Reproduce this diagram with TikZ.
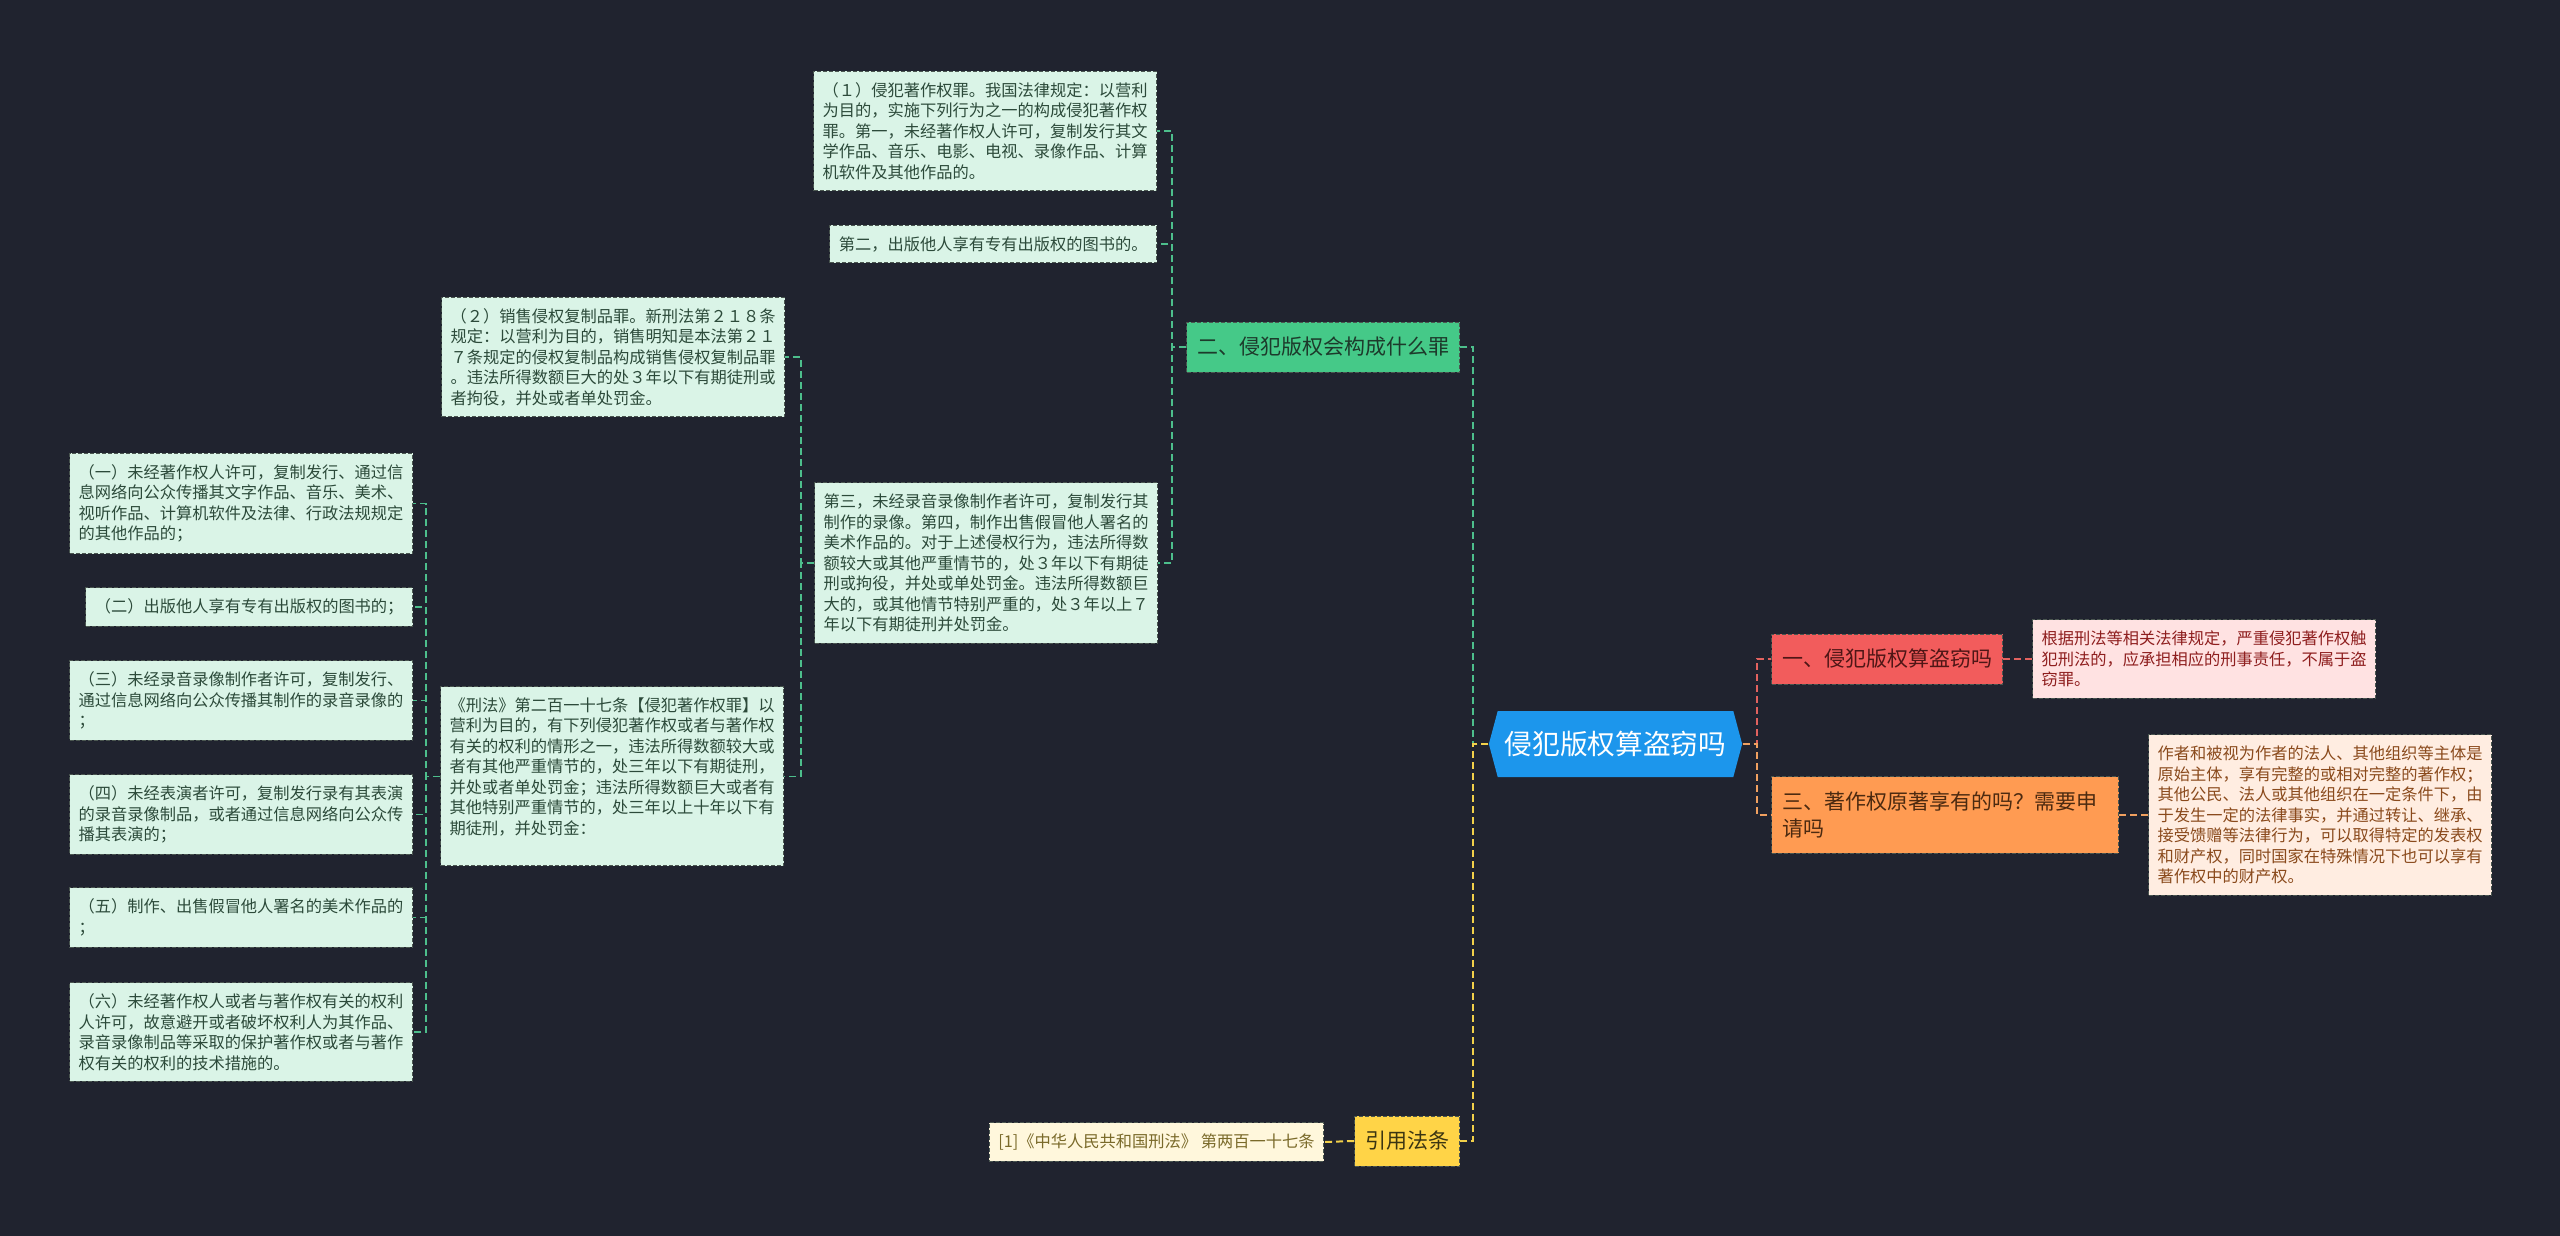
\documentclass[tikz,border=0pt]{standalone}
\usepackage{fontspec}
\newfontfamily\cjk{Noto Sans CJK SC}
\usetikzlibrary{shapes.symbols}

\definecolor{bgnavy}{HTML}{20232F}
\definecolor{mintfill}{HTML}{DAF4E7}
\definecolor{minttext}{HTML}{2C4A3A}
\definecolor{boxline}{HTML}{4A5650}
\definecolor{greennode}{HTML}{45C988}
\definecolor{greentext}{HTML}{1D3A2B}
\definecolor{rootblue}{HTML}{1C96EC}
\definecolor{rednode}{HTML}{F25C5C}
\definecolor{redtext}{HTML}{4F1616}
\definecolor{pinkfill}{HTML}{FFE2E2}
\definecolor{pinktext}{HTML}{8E1E1E}
\definecolor{orangenode}{HTML}{FF9B52}
\definecolor{orangetext}{HTML}{4C2A10}
\definecolor{peachfill}{HTML}{FFEDE1}
\definecolor{peachtext}{HTML}{8A4A1C}
\definecolor{yellownode}{HTML}{FFD447}
\definecolor{yellowtext}{HTML}{3B3512}
\definecolor{creamfill}{HTML}{FFF7DC}
\definecolor{creamtext}{HTML}{7A6A2A}
\definecolor{linkgreen}{HTML}{4DBE8C}
\definecolor{linkred}{HTML}{E2625F}
\definecolor{linkorange}{HTML}{F0A060}
\definecolor{linkyellow}{HTML}{F2D04A}

\begin{document}
\begin{tikzpicture}[x=0.5pt, y=-0.5pt,
  leaf/.style={draw=boxline, dashed, dash pattern=on 2pt off 1pt, line width=0.5pt,
    fill=mintfill, text=minttext, align=left, inner xsep=4.5pt, inner ysep=5.5pt,
    font=\cjk\fontsize{8.125}{10.25}\selectfont},
  topic/.style={draw=boxline, dashed, dash pattern=on 2pt off 1pt, line width=0.5pt,
    align=left, inner xsep=5.25pt, minimum height=25pt,
    font=\cjk\fontsize{10.5}{13.5}\selectfont},
  link/.style={dashed, dash pattern=on 3.5pt off 2pt, line width=1pt}]

\fill[bgnavy] (0,0) rectangle (2560,1236);
\useasboundingbox (0,0) rectangle (2560,1236);

% centre
\node[signal, signal to=east and west, signal pointer angle=150, fill=rootblue, text=white,
  inner xsep=3.5pt, minimum height=33pt, font=\cjk\fontsize{13.85}{16}\selectfont]
  (root) at (1615.5,744) {侵犯版权算盗窃吗};

% right side
\node[topic, fill=rednode, text=redtext, anchor=west] (theft) at (1771,659) {一、侵犯版权算盗窃吗};
\node[leaf, fill=pinkfill, text=pinktext, anchor=west] (theftnote) at (2032,659)
  {根据刑法等相关法律规定，严重侵犯著作权触\\犯刑法的，应承担相应的刑事责任，不属于盗\\窃罪。};
\node[topic, fill=orangenode, text=orangetext, anchor=west, text width=163pt, inner ysep=7.5pt] (owner) at (1771,815)
  {三、著作权原著享有的吗？需要申\\请吗};
\node[leaf, fill=peachfill, text=peachtext, anchor=west] (ownernote) at (2148,815)
  {作者和被视为作者的法人、其他组织等主体是\\原始主体，享有完整的或相对完整的著作权；\\其他公民、法人或其他组织在一定条件下，由\\于发生一定的法律事实，并通过转让、继承、\\接受馈赠等法律行为，可以取得特定的发表权\\和财产权，同时国家在特殊情况下也可以享有\\著作权中的财产权。};

% left side
\node[topic, fill=greennode, text=greentext, anchor=east] (crime) at (1460,347) {二、侵犯版权会构成什么罪};
\node[topic, fill=yellownode, text=yellowtext, anchor=east] (cite) at (1460,1141) {引用法条};
\node[leaf, fill=creamfill, text=creamtext, anchor=east] (citenote) at (1324,1142)
  {[1]《中华人民共和国刑法》 第两百一十七条};

\node[leaf, anchor=east] (sub1) at (1157,131)
  {（１）侵犯著作权罪。我国法律规定：以营利\\为目的，实施下列行为之一的构成侵犯著作权\\罪。第一，未经著作权人许可，复制发行其文\\学作品、音乐、电影、电视、录像作品、计算\\机软件及其他作品的。};
\node[leaf, anchor=east] (sub2) at (1157,244) {第二，出版他人享有专有出版权的图书的。};
\node[leaf, anchor=east] (sub3) at (1158,563)
  {第三，未经录音录像制作者许可，复制发行其\\制作的录像。第四，制作出售假冒他人署名的\\美术作品的。对于上述侵权行为，违法所得数\\额较大或其他严重情节的，处３年以下有期徒\\刑或拘役，并处或单处罚金。违法所得数额巨\\大的，或其他情节特别严重的，处３年以上７\\年以下有期徒刑并处罚金。};

\node[leaf, anchor=east] (sale) at (785,357)
  {（２）销售侵权复制品罪。新刑法第２１８条\\规定：以营利为目的，销售明知是本法第２１\\７条规定的侵权复制品构成销售侵权复制品罪\\。违法所得数额巨大的处３年以下有期徒刑或\\者拘役，并处或者单处罚金。};
\node[leaf, anchor=north east] (law) at (784,686)
  {《刑法》第二百一十七条【侵犯著作权罪】以\\营利为目的，有下列侵犯著作权或者与著作权\\有关的权利的情形之一，违法所得数额较大或\\者有其他严重情节的，处三年以下有期徒刑，\\并处或者单处罚金；违法所得数额巨大或者有\\其他特别严重情节的，处三年以上十年以下有\\期徒刑，并处罚金：\\\mbox{}};

\node[leaf, anchor=east] (item1) at (413,503.5)
  {（一）未经著作权人许可，复制发行、通过信\\息网络向公众传播其文字作品、音乐、美术、\\视听作品、计算机软件及法律、行政法规规定\\的其他作品的；};
\node[leaf, anchor=east] (item2) at (413,607) {（二）出版他人享有专有出版权的图书的；};
\node[leaf, anchor=east] (item3) at (413,700.5)
  {（三）未经录音录像制作者许可，复制发行、\\通过信息网络向公众传播其制作的录音录像的\\；};
\node[leaf, anchor=east] (item4) at (413,814.5)
  {（四）未经表演者许可，复制发行录有其表演\\的录音录像制品，或者通过信息网络向公众传\\播其表演的；};
\node[leaf, anchor=east] (item5) at (413,917.5)
  {（五）制作、出售假冒他人署名的美术作品的\\；};
\node[leaf, anchor=east] (item6) at (413,1032)
  {（六）未经著作权人或者与著作权有关的权利\\人许可，故意避开或者破坏权利人为其作品、\\录音录像制品等采取的保护著作权或者与著作\\权有关的权利的技术措施的。};

% connectors
\draw[link, linkred] (root.east) -- ++(14,0) |- (theft.west);
\draw[link, linkorange] (root.east) -- ++(14,0) |- (owner.west);
\draw[link, linkred] (theft.east) -- (theftnote.west);
\draw[link, linkorange] (owner.east) -- (ownernote.west);
\draw[link, linkgreen] (root.west) -- ++(-15,0) |- (crime.east);
\draw[link, linkyellow] (root.west) -- ++(-15,0) |- (cite.east);
\draw[link, linkyellow] (cite.west) -- (citenote.east);
\foreach \k in {sub1,sub2,sub3}
  \draw[link, linkgreen, line width=0.6pt] (crime.west) -- ++(-14,0) |- (\k.east);
\foreach \k in {sale,law}
  \draw[link, linkgreen, line width=0.6pt] (sub3.west) -- ++(-13,0) |- (\k.east);
\foreach \k in {item1,item2,item3,item4,item5,item6}
  \draw[link, linkgreen, line width=0.6pt] (law.west) -- ++(-14,0) |- (\k.east);
\end{tikzpicture}
\end{document}
